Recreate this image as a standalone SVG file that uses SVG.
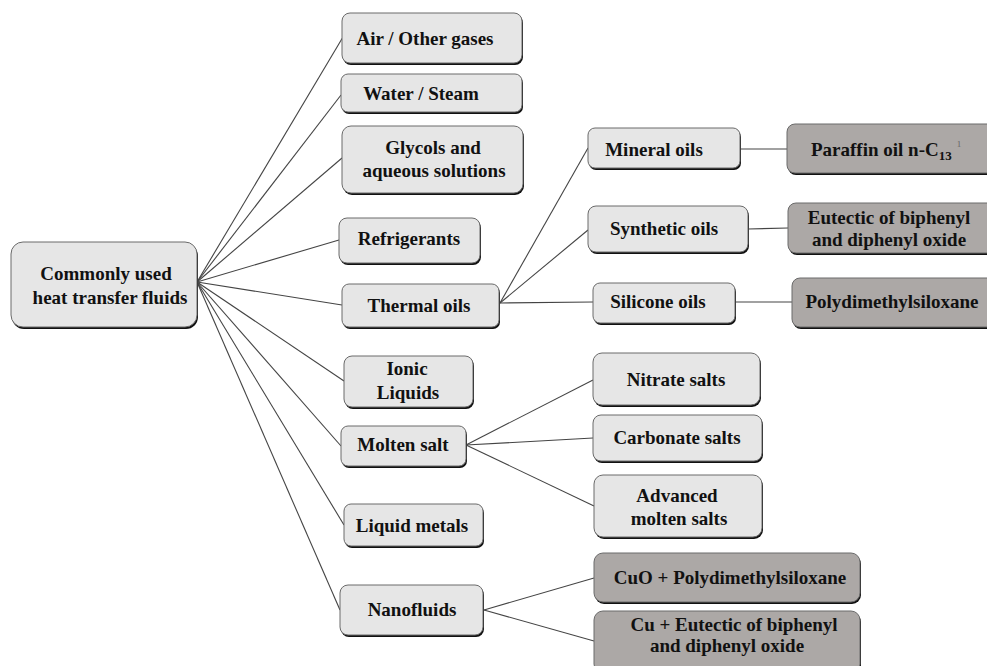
<svg xmlns="http://www.w3.org/2000/svg" width="987" height="666" viewBox="0 0 987 666">
<style>
.sh{fill:#111}
.bx{fill:#e6e6e6;stroke:#6a6a6a;stroke-width:1}
.dk{fill:#aca8a6;stroke:#6a6a6a;stroke-width:1}
.t{font-family:"Liberation Serif","Times New Roman",serif;font-weight:bold;font-size:19px;fill:#111;text-anchor:middle}
.ts{text-anchor:start}
.c{stroke:#444;stroke-width:1.1;fill:none}
</style>
<rect width="987" height="666" fill="#fff"/>
<g id="connectors">
<line class="c" x1="197" y1="282" x2="343" y2="37"/>
<line class="c" x1="197" y1="282" x2="341" y2="95"/>
<line class="c" x1="197" y1="282" x2="342" y2="158"/>
<line class="c" x1="197" y1="282" x2="339" y2="240"/>
<line class="c" x1="197" y1="282" x2="342" y2="305"/>
<line class="c" x1="197" y1="282" x2="344" y2="381"/>
<line class="c" x1="197" y1="282" x2="341" y2="446"/>
<line class="c" x1="197" y1="282" x2="344" y2="525"/>
<line class="c" x1="197" y1="282" x2="340" y2="610"/>
<line class="c" x1="500" y1="303" x2="588" y2="148"/>
<line class="c" x1="500" y1="303" x2="588" y2="230"/>
<line class="c" x1="500" y1="303" x2="593" y2="302"/>
<line class="c" x1="740" y1="149" x2="787" y2="149"/>
<line class="c" x1="748" y1="229" x2="788" y2="228"/>
<line class="c" x1="735" y1="302" x2="792" y2="302"/>
<line class="c" x1="466" y1="445" x2="593" y2="380"/>
<line class="c" x1="466" y1="445" x2="593" y2="438"/>
<line class="c" x1="466" y1="445" x2="594" y2="506"/>
<line class="c" x1="484" y1="610" x2="594" y2="578"/>
<line class="c" x1="484" y1="610" x2="594" y2="641"/>
</g>
<g id="root">
<rect class="sh" x="12" y="244" width="186" height="85" rx="12"/>
<rect class="bx" x="11" y="242" width="186" height="85" rx="12"/>
<text class="t" x="106" y="280">Commonly used</text>
<text class="t" x="110" y="304">heat transfer fluids</text>
</g>
<g id="air">
<rect class="sh" x="343" y="15" width="180" height="50" rx="8"/>
<rect class="bx" x="342" y="13" width="180" height="50" rx="8"/>
<text class="t" x="425" y="45">Air / Other gases</text>
</g>
<g id="water">
<rect class="sh" x="342" y="76" width="181" height="38" rx="7"/>
<rect class="bx" x="341" y="74" width="181" height="38" rx="7"/>
<text class="t" x="421" y="100">Water  / Steam</text>
</g>
<g id="glycols">
<rect class="sh" x="343" y="128" width="181" height="67" rx="9"/>
<rect class="bx" x="342" y="126" width="181" height="67" rx="9"/>
<text class="t" x="433" y="154">Glycols and</text>
<text class="t" x="434" y="177">aqueous solutions</text>
</g>
<g id="refrigerants">
<rect class="sh" x="340" y="220" width="141" height="45" rx="8"/>
<rect class="bx" x="339" y="218" width="141" height="45" rx="8"/>
<text class="t" x="409" y="245">Refrigerants</text>
</g>
<g id="thermal">
<rect class="sh" x="343" y="286" width="157" height="43" rx="7"/>
<rect class="bx" x="342" y="284" width="157" height="43" rx="7"/>
<text class="t" x="419" y="312">Thermal oils</text>
</g>
<g id="ionic">
<rect class="sh" x="345" y="358" width="129" height="51" rx="8"/>
<rect class="bx" x="344" y="356" width="129" height="51" rx="8"/>
<text class="t" x="407" y="375">Ionic</text>
<text class="t" x="408" y="399">Liquids</text>
</g>
<g id="molten">
<rect class="sh" x="342" y="428" width="125" height="40" rx="7"/>
<rect class="bx" x="341" y="426" width="125" height="40" rx="7"/>
<text class="t" x="403" y="451">Molten salt</text>
</g>
<g id="liquid">
<rect class="sh" x="345" y="506" width="139" height="42" rx="7"/>
<rect class="bx" x="344" y="504" width="139" height="42" rx="7"/>
<text class="t" x="412" y="532">Liquid metals</text>
</g>
<g id="nano">
<rect class="sh" x="341" y="587" width="143" height="50" rx="8"/>
<rect class="bx" x="340" y="585" width="143" height="50" rx="8"/>
<text class="t" x="412" y="616">Nanofluids</text>
</g>
<g id="mineral">
<rect class="sh" x="589" y="130" width="152" height="40" rx="7"/>
<rect class="bx" x="588" y="128" width="152" height="40" rx="7"/>
<text class="t" x="654" y="156">Mineral oils</text>
</g>
<g id="synthetic">
<rect class="sh" x="589" y="208" width="160" height="46" rx="8"/>
<rect class="bx" x="588" y="206" width="160" height="46" rx="8"/>
<text class="t" x="664" y="235">Synthetic oils</text>
</g>
<g id="silicone">
<rect class="sh" x="594" y="285" width="142" height="40" rx="7"/>
<rect class="bx" x="593" y="283" width="142" height="40" rx="7"/>
<text class="t" x="658" y="308">Silicone oils</text>
</g>
<g id="paraffin">
<rect class="sh" x="788" y="126" width="210" height="49" rx="8"/>
<rect class="dk" x="787" y="124" width="210" height="49" rx="8"/>
<text class="t ts" x="811" y="156">Paraffin oil n-C<tspan font-size="13" dy="4">13</tspan><tspan font-size="9" font-weight="normal" fill="#666" dx="5" dy="-13">1</tspan></text>
</g>
<g id="eutectic">
<rect class="sh" x="789" y="205" width="210" height="50" rx="8"/>
<rect class="dk" x="788" y="203" width="210" height="50" rx="8"/>
<text class="t" x="889" y="224">Eutectic of biphenyl</text>
<text class="t" x="889" y="246">and diphenyl oxide</text>
</g>
<g id="pdms">
<rect class="sh" x="793" y="280" width="210" height="49" rx="8"/>
<rect class="dk" x="792" y="278" width="210" height="49" rx="8"/>
<text class="t" x="892" y="308">Polydimethylsiloxane</text>
</g>
<g id="nitrate">
<rect class="sh" x="594" y="355" width="167" height="52" rx="9"/>
<rect class="bx" x="593" y="353" width="167" height="52" rx="9"/>
<text class="t" x="676" y="386">Nitrate salts</text>
</g>
<g id="carbonate">
<rect class="sh" x="594" y="417" width="169" height="46" rx="8"/>
<rect class="bx" x="593" y="415" width="169" height="46" rx="8"/>
<text class="t" x="677" y="444">Carbonate  salts</text>
</g>
<g id="advanced">
<rect class="sh" x="595" y="477" width="168" height="62" rx="9"/>
<rect class="bx" x="594" y="475" width="168" height="62" rx="9"/>
<text class="t" x="677" y="502">Advanced</text>
<text class="t" x="679" y="525">molten salts</text>
</g>
<g id="cuo">
<rect class="sh" x="595" y="555" width="266" height="49" rx="9"/>
<rect class="dk" x="594" y="553" width="266" height="49" rx="9"/>
<text class="t" x="730" y="584">CuO + Polydimethylsiloxane</text>
</g>
<g id="cu">
<rect class="sh" x="595" y="613" width="266" height="62" rx="9"/>
<rect class="dk" x="594" y="611" width="266" height="62" rx="9"/>
<text class="t" x="734" y="631">Cu + Eutectic of biphenyl</text>
<text class="t" x="727" y="652">and diphenyl oxide</text>
</g>
</svg>
